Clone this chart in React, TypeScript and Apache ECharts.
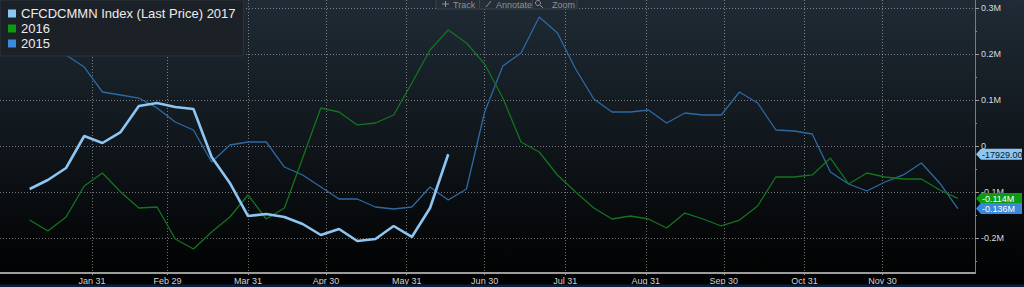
import React, { useEffect, useRef } from 'react';
import * as echarts from 'echarts';

const weeks = [
  '2016-01-07', '2016-01-14', '2016-01-21', '2016-01-28',
  '2016-02-04', '2016-02-11', '2016-02-18', '2016-02-25',
  '2016-03-03', '2016-03-10', '2016-03-17', '2016-03-24', '2016-03-31',
  '2016-04-07', '2016-04-14', '2016-04-21', '2016-04-28',
  '2016-05-05', '2016-05-12', '2016-05-19', '2016-05-26',
  '2016-06-02', '2016-06-09', '2016-06-16', '2016-06-23', '2016-06-30',
  '2016-07-07', '2016-07-14', '2016-07-21', '2016-07-28',
  '2016-08-04', '2016-08-11', '2016-08-18', '2016-08-25',
  '2016-09-01', '2016-09-08', '2016-09-15', '2016-09-22', '2016-09-29',
  '2016-10-06', '2016-10-13', '2016-10-20', '2016-10-27',
  '2016-11-03', '2016-11-10', '2016-11-17', '2016-11-24',
  '2016-12-01', '2016-12-08', '2016-12-15', '2016-12-22', '2016-12-29',
];

const series2017 = [
  -93500, -73900, -47800, 21700, 6500, 30400, 87000, 93500, 84800, 80400,
  -23900, -80400, -152200, -147800, -154300, -169600, -193500, -180400,
  -206500, -202200, -173900, -197800, -134800, -17929,
];

const series2016 = [
  -160900, -184800, -154300, -87000, -58700, -100000, -134800, -132600,
  -202200, -223900, -187000, -154300, -106500, -158700, -134800, -26100,
  82600, 73900, 45700, 50000, 67400, 137000, 208700, 252200, 223900,
  178300, 104300, 8700, -13000, -63000, -100000, -134800, -158700,
  -152200, -158700, -178300, -145700, -158700, -173900, -160900, -130400,
  -67400, -67400, -63000, -26100, -82600, -58700, -67400, -71700, -71700,
  -95700, -114000,
];

const series2015 = [
  215200, 208700, 197800, 171700, 117400, 110900, 104300, 82600, 52200,
  34800, -34800, 2200, 8700, 8700, -45700, -63000, -89100, -115200,
  -115200, -132600, -137000, -132600, -89100, -117400, -93500, 73900,
  173900, 202200, 280400, 245700, 167400, 102200, 73900, 73900, 78300,
  50000, 71700, 67400, 67400, 117400, 93500, 34800, 32600, 26100, -56500,
  -82600, -97800, -78300, -63000, -37000, -80400, -136000,
];

const monthEnds = [
  '2016-01-31', '2016-02-29', '2016-03-31', '2016-04-30', '2016-05-31',
  '2016-06-30', '2016-07-31', '2016-08-31', '2016-09-30', '2016-10-31',
  '2016-11-30',
];

const yMajor = [-200000, -100000, 0, 100000, 200000, 300000];
const yMinor = [-250000, -150000, -50000, 50000, 150000, 250000];

const seriesNames = ['CFCDCMMN Index (Last Price) 2017', '2016', '2015'];
const toolbarLabels = ['Track', 'Annotate', 'Zoom'];
const MONTHS = ['Jan', 'Feb', 'Mar', 'Apr', 'May', 'Jun', 'Jul', 'Aug', 'Sep', 'Oct', 'Nov', 'Dec'];

const DAY = 86400000;
function ts(s: string): number {
  const [y, m, d] = s.split('-').map(Number);
  return Date.UTC(y, m - 1, d);
}

const FONT = '"Liberation Sans", Arial, sans-serif';
const C2017 = '#8dc6f2';
const C2016 = '#14731f';
const C2015 = '#2e69a3';

function fmtM(v: number): string {
  if (Math.abs(v) < 1) return '0';
  return Math.round(v / 100000) / 10 + 'M';
}

export default function App() {
  const ref = useRef<HTMLDivElement>(null);

  useEffect(() => {
    if (!ref.current) return;
    const chart = echarts.init(ref.current, null, { renderer: 'svg' });
    const origin = ts('2015-12-31');
    const toData = (vals: number[]) => vals.map((v, i) => [ts(weeks[i]), v]);
    const xTicks = monthEnds.map(ts);
    const gridLine = { show: true, lineStyle: { color: 'rgba(255,255,255,0.42)', type: [1, 2], width: 1 } };

    const option: any = {
      animation: false,
      backgroundColor: {
        type: 'linear', x: 0, y: 0, x2: 0, y2: 1,
        colorStops: [
          { offset: 0, color: '#1f2b35' },
          { offset: 0.5, color: '#10161b' },
          { offset: 0.9, color: '#030405' },
          { offset: 1, color: '#000000' },
        ],
      },
      textStyle: { fontFamily: FONT },
      grid: { left: 0, right: 49, top: 0, bottom: 14, containLabel: false },
      legend: {
        left: 0, top: 0, orient: 'vertical',
        padding: [7, 8, 6, 8],
        itemWidth: 8, itemHeight: 8, itemGap: 2,
        icon: 'rect',
        selectedMode: false,
        backgroundColor: '#1b2127',
        borderColor: '#2c343c', borderWidth: 1, borderRadius: 2,
        textStyle: { color: '#ececec', fontSize: 13, fontFamily: FONT },
        data: [
          { name: seriesNames[0], itemStyle: { color: '#8cc6f2' } },
          { name: seriesNames[1], itemStyle: { color: '#0c9a0e' } },
          { name: seriesNames[2], itemStyle: { color: '#3a8ae0' } },
        ],
      },
      xAxis: {
        type: 'value',
        min: origin - 4.4 * DAY,
        max: origin + 370.6 * DAY,
        axisLine: { show: true, onZero: false, lineStyle: { color: '#9c9c9c', width: 2 } },
        axisTick: { show: true, length: 2, lineStyle: { color: '#9c9c9c' }, customValues: xTicks },
        axisLabel: {
          customValues: xTicks,
          color: '#d4d4d4', fontSize: 9, margin: 3, fontFamily: FONT,
          formatter: (v: number) => { const d = new Date(v); return MONTHS[d.getUTCMonth()] + ' ' + d.getUTCDate(); },
        },
        splitLine: gridLine,
      },
      yAxis: [
        {
          type: 'value', position: 'right',
          min: -276100, max: 317400,
          axisLine: { show: true, onZero: false, lineStyle: { color: '#7c7c7c', width: 1 } },
          axisTick: { show: true, length: 4, lineStyle: { color: '#9c9c9c' }, customValues: yMajor },
          axisLabel: { customValues: yMajor, color: '#dadada', fontSize: 9, margin: 6, fontFamily: FONT, formatter: fmtM },
          splitLine: gridLine,
        },
        {
          type: 'value', position: 'right',
          min: -276100, max: 317400,
          axisLine: { show: false, onZero: false },
          axisTick: { show: true, length: 2, lineStyle: { color: '#8c8c8c' }, customValues: yMinor },
          axisLabel: { show: false },
          splitLine: { show: false },
        },
      ],
      series: [
        {
          name: seriesNames[2], type: 'line', data: toData(series2015), showSymbol: false,
          lineStyle: { color: C2015, width: 1.3 }, itemStyle: { color: C2015 }, z: 2,
        },
        {
          name: seriesNames[1], type: 'line', data: toData(series2016), showSymbol: false,
          lineStyle: { color: C2016, width: 1.3 }, itemStyle: { color: C2016 }, z: 3,
        },
        {
          name: seriesNames[0], type: 'line', data: toData(series2017), showSymbol: false,
          lineStyle: { color: C2017, width: 2.6 }, itemStyle: { color: C2017 }, z: 4,
        },
      ],
    };
    chart.setOption(option);

    const last = (a: number[]) => a[a.length - 1];
    const tags = [
      { v: last(series2017), text: last(series2017).toFixed(2), fill: '#8dc6f2', color: '#0a1622' },
      { v: last(series2016), text: (last(series2016) / 1e6).toFixed(3) + 'M', fill: '#0e9a12', color: '#ffffff' },
      { v: last(series2015), text: (last(series2015) / 1e6).toFixed(3) + 'M', fill: '#3a88dc', color: '#ffffff' },
    ];
    const graphics: any[] = [];
    tags.forEach((t) => {
      const y = chart.convertToPixel({ yAxisIndex: 0 }, t.v) as number;
      graphics.push({
        type: 'polygon', z: 100,
        shape: { points: [[976, y], [981, y - 5.5], [1022, y - 5.5], [1022, y + 5.5], [981, y + 5.5]] },
        style: { fill: t.fill },
      });
      graphics.push({
        type: 'text', z: 101, x: 982, y: y + 0.5,
        style: { text: t.text, fill: t.color, fontSize: 9, fontFamily: FONT, verticalAlign: 'middle', align: 'left' },
      });
    });
    // toolbar
    const TB = '#8a939b';
    graphics.push({
      type: 'rect', z: 100, shape: { x: 436, y: -4, width: 141, height: 13, r: 1 },
      style: { fill: '#252e37', stroke: '#3a434c', lineWidth: 1 },
    });
    graphics.push({ type: 'line', z: 101, shape: { x1: 479.5, y1: -4, x2: 479.5, y2: 9 }, style: { stroke: '#3a434c' } });
    graphics.push({ type: 'line', z: 101, shape: { x1: 532.5, y1: -4, x2: 532.5, y2: 9 }, style: { stroke: '#3a434c' } });
    const tbX = [453, 496, 552];
    toolbarLabels.forEach((t, i) => {
      graphics.push({
        type: 'text', z: 101, x: tbX[i], y: 0,
        style: { text: t, fill: TB, fontSize: 9, fontFamily: FONT, verticalAlign: 'top' },
      });
    });
    graphics.push({ type: 'line', z: 101, shape: { x1: 442, y1: 4, x2: 449, y2: 4 }, style: { stroke: TB } });
    graphics.push({ type: 'line', z: 101, shape: { x1: 445.5, y1: 1, x2: 445.5, y2: 7 }, style: { stroke: TB } });
    graphics.push({ type: 'line', z: 101, shape: { x1: 486, y1: 7, x2: 491, y2: 1 }, style: { stroke: TB } });
    graphics.push({ type: 'circle', z: 101, shape: { cx: 538, cy: 3, r: 2.5 }, style: { fill: 'none', stroke: TB } });
    graphics.push({ type: 'line', z: 101, shape: { x1: 540, y1: 5, x2: 543, y2: 8 }, style: { stroke: TB } });
    // bottom strip
    graphics.push({ type: 'rect', z: 100, shape: { x: 0, y: 284.5, width: 1024, height: 3 }, style: { fill: '#0c1f3e' } });

    chart.setOption({ graphic: graphics });

    return () => chart.dispose();
  }, []);

  return (
    <div
      ref={ref}
      style={{ position: 'fixed', left: 0, top: 0, width: 1024, height: 287 }}
    />
  );
}
